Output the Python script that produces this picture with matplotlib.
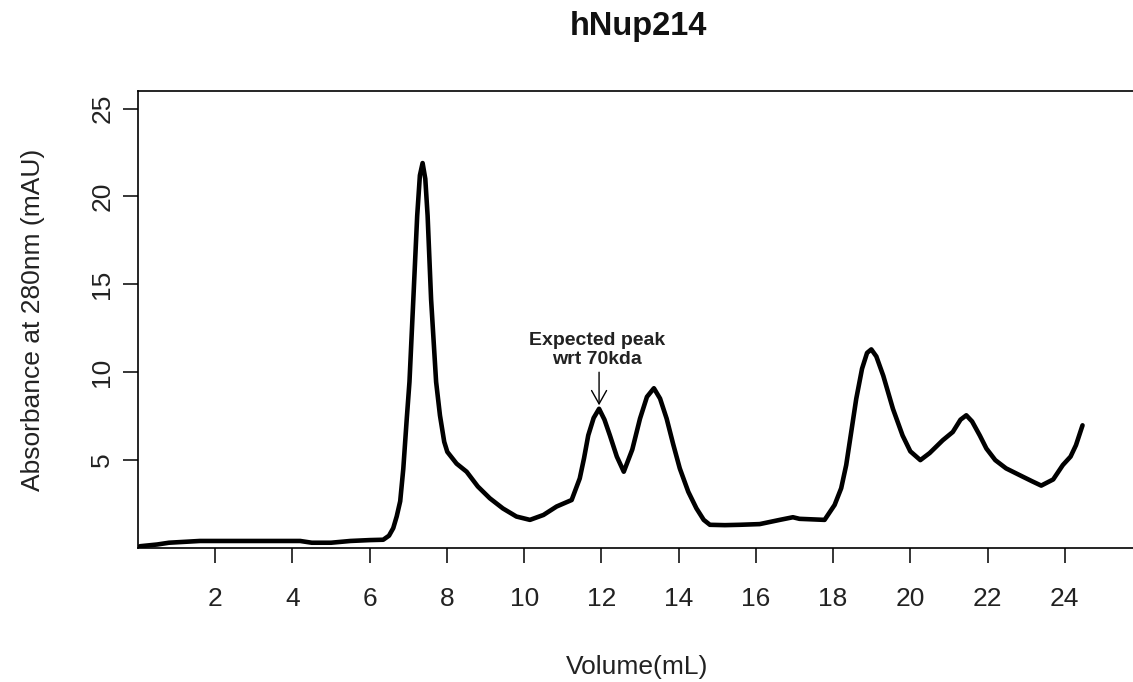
import matplotlib
matplotlib.use("Agg")
import matplotlib.pyplot as plt

plt.rcParams['font.family'] = ['Liberation Sans', 'DejaVu Sans']

# lectura del cromatograma (volumen en mL, absorbancia en mAU)
volumen = [0.05, 0.5, 0.8, 1.6, 2.5, 3.5, 4.2, 4.5, 5.0, 5.5, 6.0, 6.35,
           6.5, 6.61, 6.7, 6.79, 6.87, 6.96, 7.03, 7.13, 7.23, 7.3, 7.37,
           7.44, 7.5, 7.59, 7.72, 7.82, 7.93, 8.01, 8.25, 8.51, 8.8, 9.11,
           9.45, 9.8, 10.15, 10.5, 10.84, 11.23, 11.44, 11.55, 11.66, 11.8,
           11.94, 12.08, 12.22, 12.4, 12.58, 12.8, 13.0, 13.18, 13.36, 13.52,
           13.69, 13.86, 14.03, 14.25, 14.46, 14.65, 14.81, 15.2, 15.58, 16.1,
           16.62, 16.96, 17.13, 17.78, 18.04, 18.21, 18.34, 18.47, 18.6, 18.75,
           18.88, 18.99, 19.12, 19.3, 19.55, 19.8, 20.0, 20.26, 20.5, 20.84,
           21.1, 21.3, 21.45, 21.6, 21.8, 21.97, 22.2, 22.48, 22.91, 23.15,
           23.39, 23.7, 23.95, 24.15, 24.29, 24.46]
absorbancia = [0.1, 0.2, 0.3, 0.4, 0.4, 0.4, 0.4, 0.3, 0.3, 0.4, 0.45, 0.47,
               0.7, 1.13, 1.8, 2.66, 4.5, 7.36, 9.45, 14.15, 18.9, 21.2, 21.9,
               21.0, 18.9, 14.15, 9.45, 7.54, 6.04, 5.47, 4.8, 4.34, 3.5, 2.83,
               2.25, 1.79, 1.6, 1.88, 2.36, 2.73, 3.96, 5.1, 6.41, 7.4,
               7.92, 7.3, 6.41, 5.2, 4.34, 5.6, 7.36, 8.6, 9.09, 8.5,
               7.36, 5.9, 4.53, 3.2, 2.26, 1.6, 1.32, 1.3, 1.32, 1.36,
               1.6, 1.75, 1.66, 1.6, 2.45, 3.4, 4.72, 6.6, 8.49, 10.2,
               11.1, 11.3, 10.9, 9.8, 7.92, 6.4, 5.5, 5.0, 5.4, 6.13,
               6.6, 7.3, 7.55, 7.2, 6.4, 5.66, 5.0, 4.53, 4.06, 3.8,
               3.55, 3.9, 4.72, 5.2, 5.85, 6.98]

ticks_x = [2, 4, 6, 8, 10, 12, 14, 16, 18, 20, 22, 24]
ticks_y = [5, 10, 15, 20, 25]

# pico esperado
pico_x = 11.94
pico_y = 7.92

fig = plt.figure(figsize=(11.33, 6.82), dpi=100)
ax = fig.add_axes([138 / 1133, 1 - 548 / 682, 1004 / 1133, 457 / 682])

ax.plot(volumen, absorbancia, color='black', linewidth=3.3,
        solid_joinstyle='round', solid_capstyle='round')

ax.set_xlim(0, 26)
ax.set_ylim(0, 26)
ax.set_xticks(ticks_x)
ax.set_yticks(ticks_y)
ax.tick_params(axis='both', direction='out', length=11, width=1.1,
               labelsize=19, colors='black', labelcolor='#222222')
ax.tick_params(axis='x', pad=17)
ax.tick_params(axis='y', pad=6)
for lbl in ax.get_yticklabels():
    lbl.set_rotation(90)
    lbl.set_va('center')

for s in ax.spines.values():
    s.set_linewidth(1.2)

ax.set_xlabel('Volume(mL)', fontsize=19, color='#222222')
ax.set_ylabel('Absorbance at 280nm (mAU)', fontsize=19, color='#222222')
ax.xaxis.set_label_coords((637 - 138) / 1004, (548 - 667) / 457)
ax.yaxis.set_label_coords((33 - 138) / 1004, 0.5)
ax.xaxis.label.set_va('center')
ax.yaxis.label.set_va('center')

# anotacion del pico
ax.annotate('', xy=(pico_x, pico_y + 0.2), xytext=(pico_x, 10.0),
            arrowprops=dict(arrowstyle='->,head_length=0.8,head_width=0.45',
                            color='black', lw=1.0, mutation_scale=12,
                            shrinkA=0, shrinkB=0))
ax.text(11.88, 11.79, 'Expected peak', ha='center', va='center',
        fontsize=14, fontweight='bold', color='#222222')
ax.text(11.88, 10.75, 'wrt 70kda', ha='center', va='center',
        fontsize=14, fontweight='bold', color='#222222')

fig.text(638 / 1133, 1 - 27 / 682, 'hNup214', ha='center', va='center',
         fontsize=23.5, fontweight='bold', color='#111111')

plt.savefig('out.png', dpi=100)
plt.close()
